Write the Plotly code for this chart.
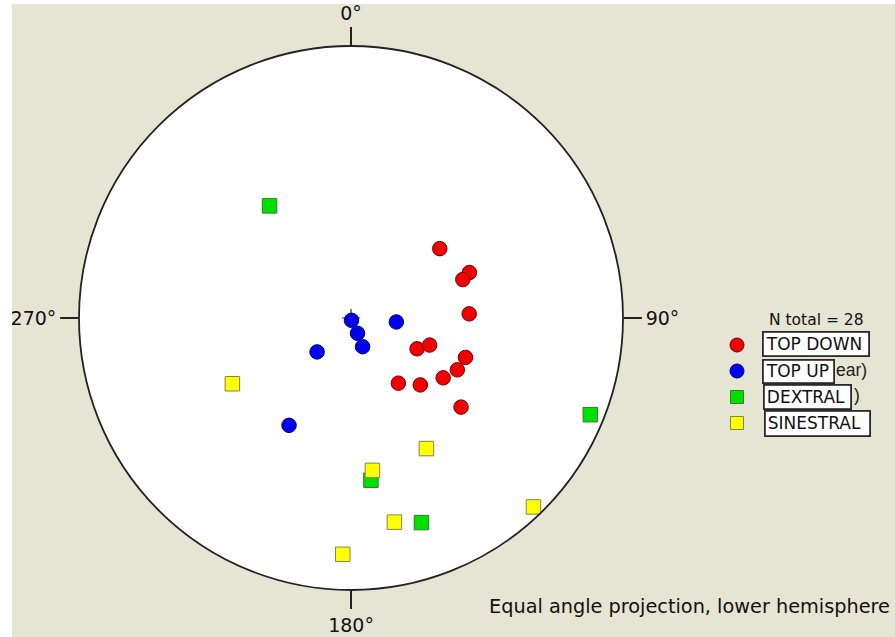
import numpy as np
import plotly.graph_objects as go

# Lineation data: trend (deg, clockwise from N) and plunge (deg)
red_trend = [52, 69, 71, 88, 115, 109, 109, 116, 123, 144, 134, 129]
red_plunge = [45, 40, 43, 43, 60, 56, 42, 43, 46, 57, 51, 35]

blue_trend = [167, 157, 158, 95, 225, 210]
blue_plunge = [89, 83, 77, 71, 70, 41]

green_trend = [324, 112, 173, 161]
green_plunge = [36, 3, 28, 13]

yellow_trend = [241, 150, 172, 136, 168, 182]
yellow_plunge = [37, 32, 31, 2, 15, 8]

series_names = ["TOP DOWN", "TOP UP", "DEXTRAL", "SINESTRAL"]
tick_angles = [0, 90, 180, 270]
tick_labels = ["0°", "90°", "180°", "270°"]

W, H = 895, 637
CX, CY, R = 351, 318, 272
BG = "#E6E5D3"
FONT = "DejaVu Sans"


def px(x):
    return x / W


def py(y):
    return 1 - y / H


def equal_angle(plunge):
    """Wulff (equal angle) radius, lower hemisphere, unit primitive."""
    p = np.radians(90 - np.asarray(plunge, dtype=float))
    return np.tan(p / 2)


fig = go.Figure()

# centre mark
fig.add_trace(go.Scatterpolar(
    r=[0], theta=[0], mode="markers",
    marker=dict(symbol="cross-thin", size=13, line=dict(color="#333", width=1.2)),
    hoverinfo="skip", showlegend=False))

styles = [
    (red_trend, red_plunge, "circle", "#F00000", "#7A0000"),
    (blue_trend, blue_plunge, "circle", "#0000F0", "#00007A"),
    (green_trend, green_plunge, "square", "#00E000", "#2F7F2F"),
    (yellow_trend, yellow_plunge, "square", "#FFFF00", "#85854A"),
]
for (tr, pl, sym, fill, edge), name in zip(styles, series_names):
    fig.add_trace(go.Scatterpolar(
        r=equal_angle(pl), theta=tr, mode="markers", name=name,
        marker=dict(symbol=sym, size=14.5, color=fill, line=dict(color=edge, width=1)),
        hoverinfo="skip", showlegend=False))

# white frame strips and legend symbols
shapes = [
    dict(type="rect", xref="paper", yref="paper", x0=0, x1=px(12), y0=0, y1=1,
         fillcolor="white", line=dict(width=0), layer="above"),
    dict(type="rect", xref="paper", yref="paper", x0=0, x1=1, y0=py(4), y1=1,
         fillcolor="white", line=dict(width=0), layer="above"),
]
legend_y = [345, 371, 397, 423]
legend_x = 737
for (tr, pl, sym, fill, edge), ly in zip(styles, legend_y):
    h = 7 if sym == "circle" else 6.5
    shapes.append(dict(
        type="circle" if sym == "circle" else "rect",
        xref="paper", yref="paper",
        x0=px(legend_x - h), x1=px(legend_x + h),
        y0=py(ly + h), y1=py(ly - h),
        fillcolor=fill, line=dict(color=edge, width=1), layer="above"))

annotations = [
    dict(text="Equal angle projection, lower hemisphere", x=px(487), y=py(606),
         xref="paper", yref="paper", xanchor="left", yanchor="middle",
         showarrow=False, font=dict(family=FONT, size=19.3, color="#111")),
    dict(text="N total = 28", x=px(866), y=py(320),
         xref="paper", yref="paper", xanchor="right", yanchor="middle",
         showarrow=False, font=dict(family=FONT, size=15.5, color="#111")),
]
# tails of the older labels left showing beside the boxes
for frag, fx, fy in (("ear)", 835, 369.5), (")", 853, 395)):
    annotations.append(dict(
        text=frag, x=px(fx), y=py(fy), xref="paper", yref="paper",
        xanchor="left", yanchor="middle", showarrow=False, borderpad=0,
        font=dict(family="Liberation Sans", size=17.5, color="#222")))

boxes = [(762, 343.5, 107, 25), (762, 371, 72, 24), (763, 396.5, 88, 25), (764, 423, 106, 26)]
for name, (bx, by, bw, bh) in zip(series_names, boxes):
    annotations.append(dict(
        text=name, x=px(bx), y=py(by), xref="paper", yref="paper",
        xanchor="left", yanchor="middle", showarrow=False, align="left",
        width=bw - 7, height=bh - 7, borderpad=2, borderwidth=1.8,
        bordercolor="#2a2a2a", bgcolor="white",
        font=dict(family=FONT, size=17, color="#111")))

fig.update_layout(
    width=W, height=H, margin=dict(l=0, r=0, t=0, b=0),
    paper_bgcolor=BG,
    polar=dict(
        domain=dict(x=[px(CX - R), px(CX + R)], y=[py(CY + R), py(CY - R)]),
        bgcolor="white",
        radialaxis=dict(range=[0, 1], visible=False, showgrid=False),
        angularaxis=dict(
            rotation=90, direction="clockwise",
            tickmode="array", tickvals=tick_angles, ticktext=tick_labels,
            ticks="outside", ticklen=18, tickwidth=1.5, tickcolor="#222",
            showline=True, linecolor="#222", linewidth=1.8, showgrid=False,
            tickfont=dict(family=FONT, size=19, color="#111")),
    ),
    shapes=shapes,
    annotations=annotations,
)

fig.write_html("out.html")
